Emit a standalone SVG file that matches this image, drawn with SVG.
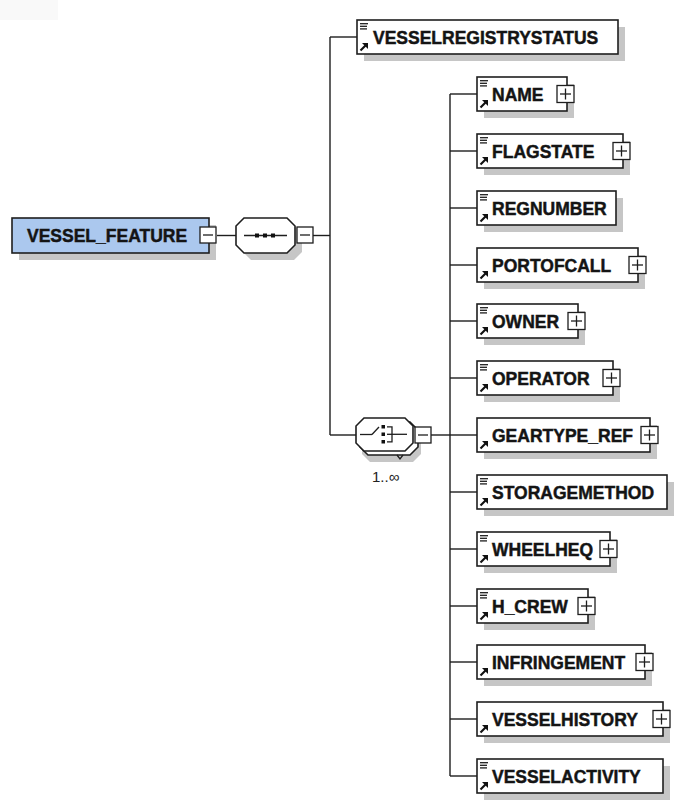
<svg xmlns="http://www.w3.org/2000/svg" xmlns:xlink="http://www.w3.org/1999/xlink" width="679" height="803" viewBox="0 0 679 803">
<style>
.box{fill:#fff;stroke:#1e1e1e;stroke-width:1.6}
.root{fill:#abc8ee;stroke:#1e1e1e;stroke-width:1.6}
.sh{fill:#c6c6c6}
.lbl{font-family:"Liberation Sans",Arial,sans-serif;font-weight:bold;font-size:17.5px;fill:#141414;stroke:#141414;stroke-width:0.45}
.occ{font-family:"Liberation Sans",Arial,sans-serif;font-size:15px;fill:#222}
.btn{fill:#fff;stroke:#1e1e1e;stroke-width:1.3}
.bl{stroke:#1e1e1e;stroke-width:1.3;fill:none}
.con{stroke:#1e1e1e;stroke-width:1.4;fill:none}
.ico{stroke:#1e1e1e;stroke-width:1.3;fill:none}
</style>
<defs>
<g id="lines">
<line class="ico" x1="0" y1="0.7" x2="8" y2="0.7"/>
<line class="ico" x1="0" y1="3.3" x2="7" y2="3.3"/>
<line class="ico" x1="0" y1="5.9" x2="7" y2="5.9"/>
</g>
<g id="arrow">
<line x1="0.5" y1="7.5" x2="5.5" y2="2.5" stroke="#111" stroke-width="2.2"/>
<polygon points="2,0 8,0 8,6" fill="#111"/>
</g>
<g id="plus">
<rect class="btn" x="0" y="0" width="17" height="17"/>
<line class="bl" x1="3" y1="8.5" x2="14" y2="8.5"/>
<line class="bl" x1="8.5" y1="3" x2="8.5" y2="14"/>
</g>
<g id="minus">
<rect class="btn" x="0" y="0" width="16" height="16"/>
<line class="bl" x1="3" y1="8" x2="13" y2="8"/>
</g>
</defs>

<rect x="0" y="0" width="58" height="20" fill="#f9f9f9"/>

<g id="connectors">
<line class="con" x1="217" y1="235.5" x2="236" y2="235.5"/>
<line class="con" x1="313" y1="235.5" x2="330" y2="235.5"/>
<line class="con" x1="330" y1="37" x2="330" y2="435"/>
<line class="con" x1="330" y1="37" x2="357" y2="37"/>
<line class="con" x1="330" y1="435" x2="356" y2="435"/>
<line class="con" x1="431" y1="435" x2="450" y2="435"/>
<line class="con" x1="450" y1="94" x2="450" y2="776"/>
<line class="con" x1="450" y1="94" x2="477" y2="94"/>
<line class="con" x1="450" y1="151" x2="477" y2="151"/>
<line class="con" x1="450" y1="208" x2="477" y2="208"/>
<line class="con" x1="450" y1="265" x2="477" y2="265"/>
<line class="con" x1="450" y1="321" x2="477" y2="321"/>
<line class="con" x1="450" y1="378" x2="477" y2="378"/>
<line class="con" x1="450" y1="435" x2="477" y2="435"/>
<line class="con" x1="450" y1="492" x2="477" y2="492"/>
<line class="con" x1="450" y1="549" x2="477" y2="549"/>
<line class="con" x1="450" y1="606" x2="477" y2="606"/>
<line class="con" x1="450" y1="662" x2="477" y2="662"/>
<line class="con" x1="450" y1="719" x2="477" y2="719"/>
<line class="con" x1="450" y1="776" x2="477" y2="776"/>
</g>

<g id="vessel_feature">
<rect class="sh" x="19" y="225" width="197" height="35"/>
<rect class="root" x="12" y="218" width="197" height="35"/>
<text class="lbl" x="27" y="242">VESSEL_FEATURE</text>
<use xlink:href="#minus" x="200" y="227"/>
</g>

<g id="sequence">
<path class="sh" d="M251,225 H294 L302,233 V252 L294,260 H251 L243,252 V233 Z"/>
<path class="box" d="M244,218 H287 L295,226 V245 L287,253 H244 L236,245 V226 Z"/>
<line class="bl" x1="244" y1="235.5" x2="287" y2="235.5"/>
<rect x="255" y="233.5" width="4" height="4" fill="#111"/>
<rect x="263" y="233.5" width="4" height="4" fill="#111"/>
<rect x="271" y="233.5" width="4" height="4" fill="#111"/>
<use xlink:href="#minus" x="297" y="227"/>
</g>

<g id="choice">
<path class="sh" d="M370,429 H413 L421,437 V454 L413,462 H370 L362,454 V437 Z"/>
<path class="box" d="M368,422 H410 L418,430 V447 L410,455 H368 L360,447 V430 Z"/>
<polyline class="bl" points="397,455 400,459 403,455"/>
<path class="box" d="M364,418 H405 L413,426 V443 L405,451 H364 L356,443 V426 Z"/>
<line class="bl" x1="360" y1="434.5" x2="372" y2="434.5"/>
<line class="bl" x1="372" y1="434.5" x2="379" y2="427"/>
<rect x="381.5" y="425" width="3.5" height="3.5" fill="#111"/>
<rect x="381.5" y="432.5" width="3.5" height="3.5" fill="#111"/>
<rect x="381.5" y="440" width="3.5" height="3.5" fill="#111"/>
<polyline class="bl" points="387,426.8 392,426.8 392,441.8 387,441.8"/>
<line class="bl" x1="387" y1="434.3" x2="407" y2="434.3"/>
<use xlink:href="#minus" x="415" y="427"/>
<text class="occ" x="372" y="482">1..∞</text>
</g>

<g id="vesselregistrystatus">
<rect class="sh" x="364" y="27" width="261" height="34"/>
<rect class="box" x="357" y="20" width="261" height="34"/>
<use xlink:href="#lines" x="360" y="23"/>
<use xlink:href="#arrow" x="360" y="43"/>
<text class="lbl" x="373" y="43.5">VESSELREGISTRYSTATUS</text>
</g>

<g id="name">
<rect class="sh" x="484" y="84" width="90" height="34"/>
<rect class="box" x="477" y="77" width="90" height="34"/>
<use xlink:href="#lines" x="480" y="80"/>
<use xlink:href="#arrow" x="480" y="100"/>
<text class="lbl" x="492" y="100.5">NAME</text>
<use xlink:href="#plus" x="557" y="85.5"/>
</g>

<g id="flagstate">
<rect class="sh" x="484" y="141" width="146" height="34"/>
<rect class="box" x="477" y="134" width="146" height="34"/>
<use xlink:href="#lines" x="480" y="137"/>
<use xlink:href="#arrow" x="480" y="157"/>
<text class="lbl" x="492" y="157.5">FLAGSTATE</text>
<use xlink:href="#plus" x="613" y="142.5"/>
</g>

<g id="regnumber">
<rect class="sh" x="484" y="198" width="139" height="34"/>
<rect class="box" x="477" y="191" width="139" height="34"/>
<use xlink:href="#lines" x="480" y="194"/>
<use xlink:href="#arrow" x="480" y="214"/>
<text class="lbl" x="492" y="214.5">REGNUMBER</text>
</g>

<g id="portofcall">
<rect class="sh" x="484" y="255" width="161" height="34"/>
<rect class="box" x="477" y="248" width="161" height="34"/>
<use xlink:href="#arrow" x="480" y="271"/>
<text class="lbl" x="492" y="271.5">PORTOFCALL</text>
<use xlink:href="#plus" x="629" y="256.5"/>
</g>

<g id="owner">
<rect class="sh" x="484" y="311" width="101" height="34"/>
<rect class="box" x="477" y="304" width="101" height="34"/>
<use xlink:href="#lines" x="480" y="307"/>
<use xlink:href="#arrow" x="480" y="327"/>
<text class="lbl" x="492" y="327.5">OWNER</text>
<use xlink:href="#plus" x="568" y="312.5"/>
</g>

<g id="operator">
<rect class="sh" x="484" y="368" width="136" height="34"/>
<rect class="box" x="477" y="361" width="136" height="34"/>
<use xlink:href="#lines" x="480" y="364"/>
<use xlink:href="#arrow" x="480" y="384"/>
<text class="lbl" x="492" y="384.5">OPERATOR</text>
<use xlink:href="#plus" x="603" y="369.5"/>
</g>

<g id="geartype_ref">
<rect class="sh" x="484" y="425" width="173" height="34"/>
<rect class="box" x="477" y="418" width="173" height="34"/>
<use xlink:href="#arrow" x="480" y="441"/>
<text class="lbl" x="492" y="441.5">GEARTYPE_REF</text>
<use xlink:href="#plus" x="641" y="426.5"/>
</g>

<g id="storagemethod">
<rect class="sh" x="484" y="482" width="190" height="34"/>
<rect class="box" x="477" y="475" width="190" height="34"/>
<use xlink:href="#lines" x="480" y="478"/>
<use xlink:href="#arrow" x="480" y="498"/>
<text class="lbl" x="492" y="498.5">STORAGEMETHOD</text>
</g>

<g id="wheelheq">
<rect class="sh" x="484" y="539" width="133" height="34"/>
<rect class="box" x="477" y="532" width="133" height="34"/>
<use xlink:href="#lines" x="480" y="535"/>
<use xlink:href="#arrow" x="480" y="555"/>
<text class="lbl" x="492" y="555.5">WHEELHEQ</text>
<use xlink:href="#plus" x="600" y="540.5"/>
</g>

<g id="h_crew">
<rect class="sh" x="484" y="596" width="111" height="34"/>
<rect class="box" x="477" y="589" width="111" height="34"/>
<use xlink:href="#lines" x="480" y="592"/>
<use xlink:href="#arrow" x="480" y="612"/>
<text class="lbl" x="492" y="612.5">H_CREW</text>
<use xlink:href="#plus" x="578" y="597.5"/>
</g>

<g id="infringement">
<rect class="sh" x="484" y="652" width="168" height="34"/>
<rect class="box" x="477" y="645" width="168" height="34"/>
<use xlink:href="#arrow" x="480" y="668"/>
<text class="lbl" x="492" y="668.5">INFRINGEMENT</text>
<use xlink:href="#plus" x="636" y="653.5"/>
</g>

<g id="vesselhistory">
<rect class="sh" x="484" y="709" width="186" height="34"/>
<rect class="box" x="477" y="702" width="186" height="34"/>
<use xlink:href="#arrow" x="480" y="725"/>
<text class="lbl" x="492" y="725.5">VESSELHISTORY</text>
<use xlink:href="#plus" x="653" y="710.5"/>
</g>

<g id="vesselactivity">
<rect class="sh" x="484" y="766" width="186" height="34"/>
<rect class="box" x="477" y="759" width="186" height="34"/>
<use xlink:href="#lines" x="480" y="762"/>
<use xlink:href="#arrow" x="480" y="782"/>
<text class="lbl" x="492" y="782.5">VESSELACTIVITY</text>
</g>
</svg>
